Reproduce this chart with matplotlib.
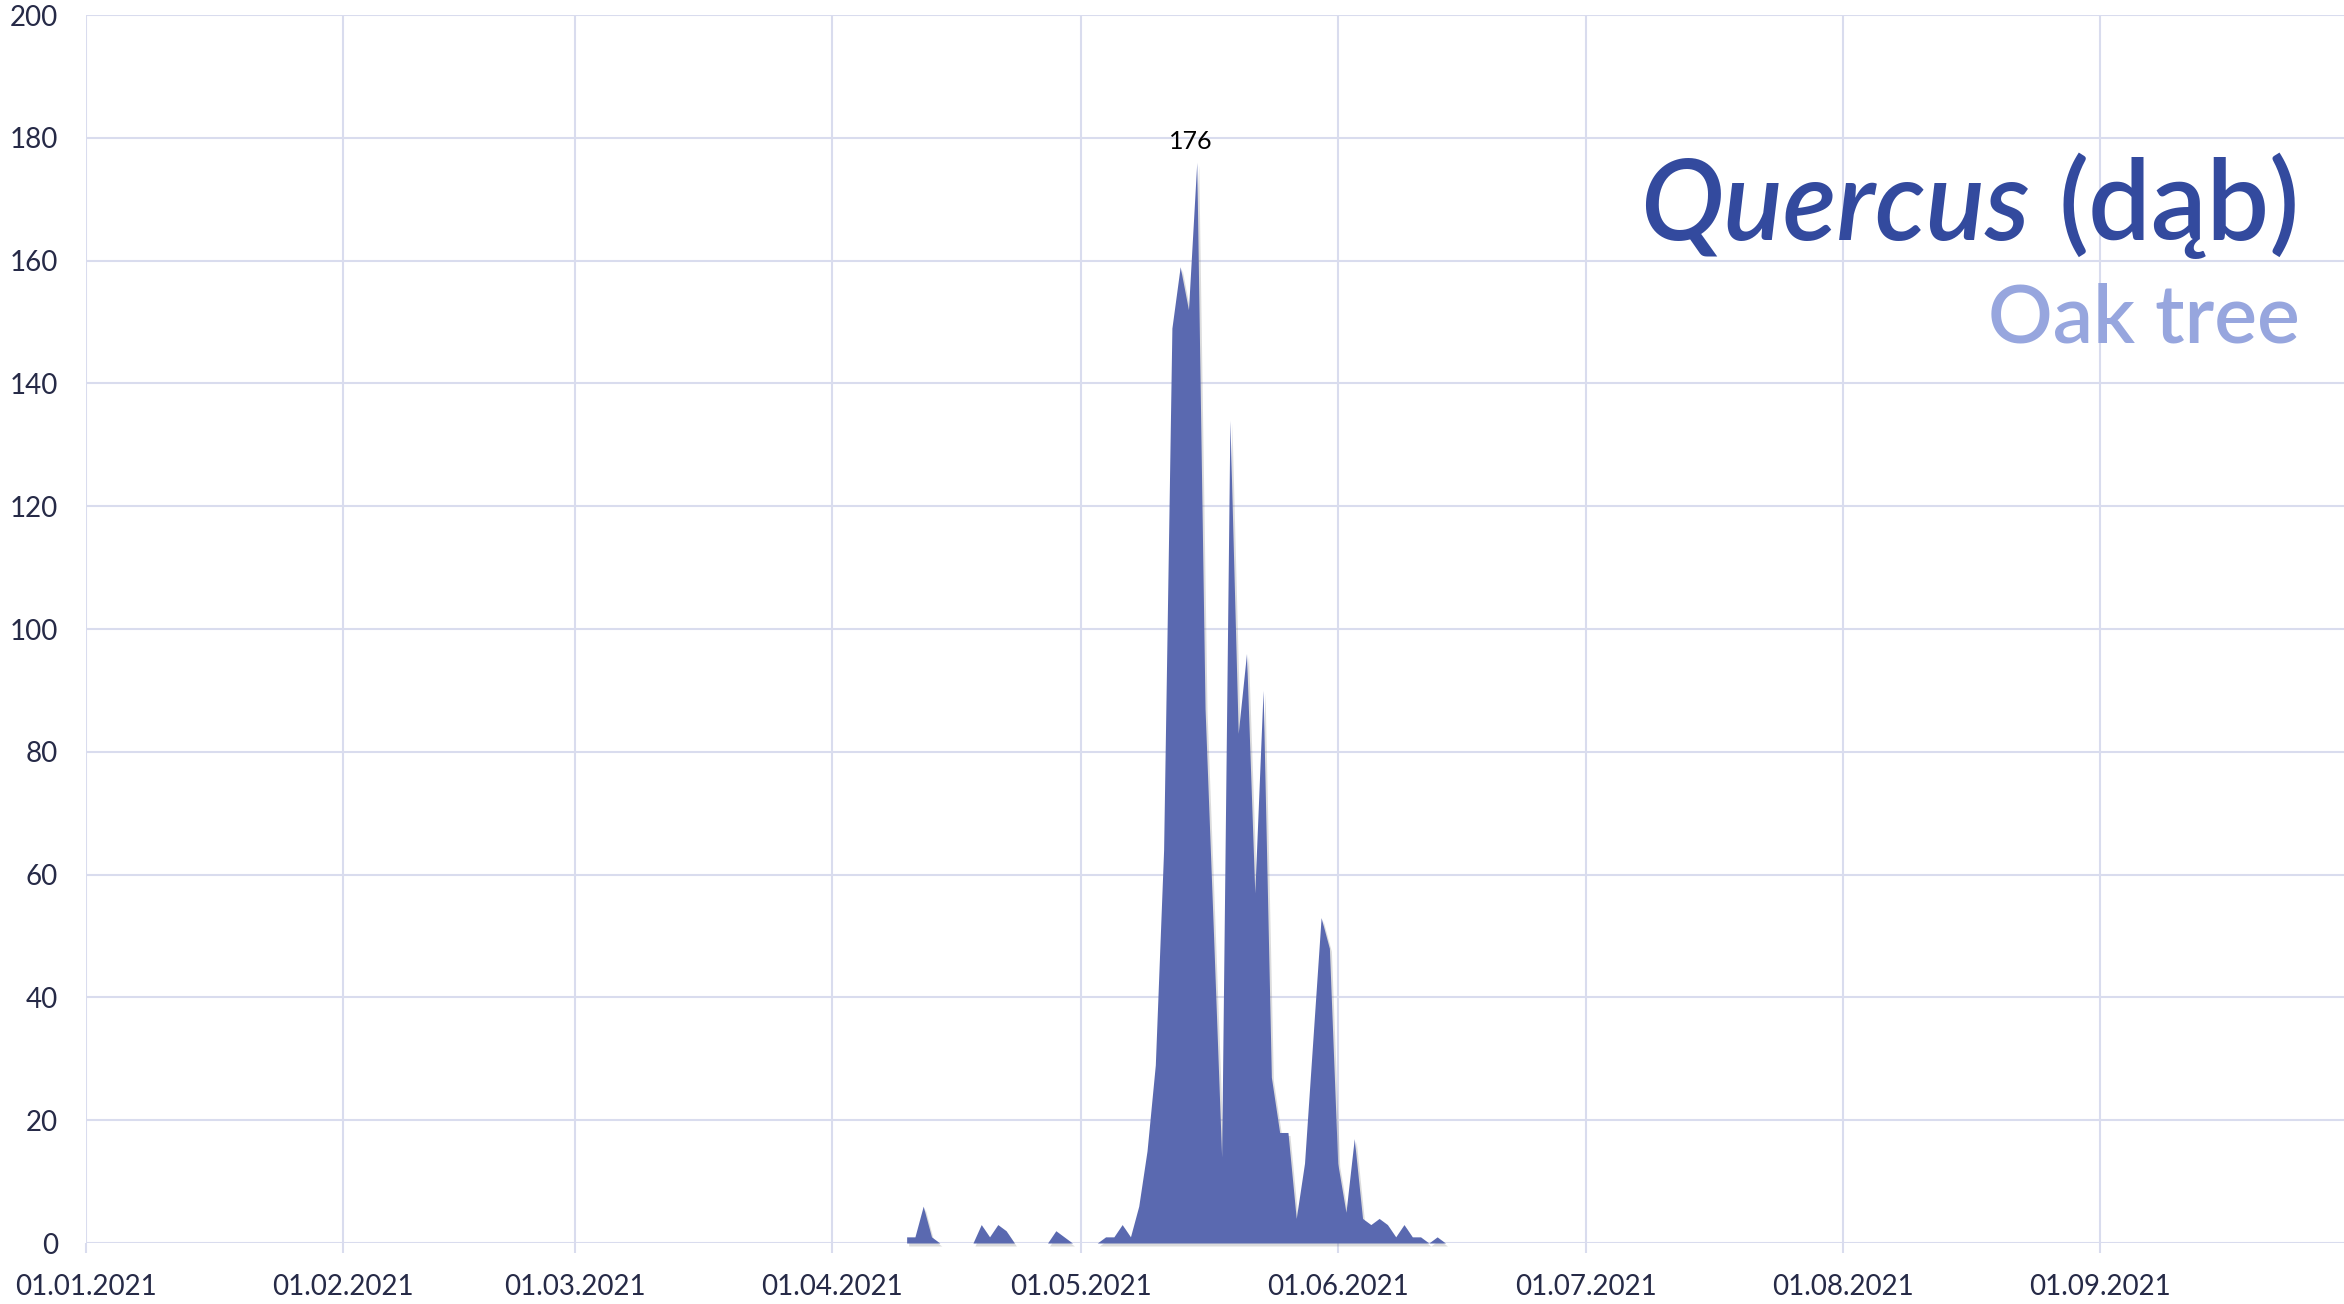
import numpy as np
import pandas as pd
import matplotlib
matplotlib.use('Agg')
import matplotlib.pyplot as plt
import matplotlib.dates as mdates
import matplotlib.transforms as mtransforms

# daily Quercus pollen counts 2021, first reading on 10.04
first_day = '2021-04-10'
counts = [1, 1, 6, 1, 0, 0, 0, 0, 0, 3, 1, 3, 2, 0, 0, 0, 0, 0, 2, 1,
          0, 0, 0, 0, 1, 1, 3, 1, 6, 15, 29, 64, 149, 159, 152, 176, 87, 51, 14, 134,
          83, 96, 57, 90, 27, 18, 18, 4, 13, 33, 53, 48, 13, 5, 17, 4, 3, 4, 3, 1,
          3, 1, 1, 0, 1, 0]
month_starts = ['2021-01-01', '2021-02-01', '2021-03-01', '2021-04-01', '2021-05-01',
                '2021-06-01', '2021-07-01', '2021-08-01', '2021-09-01']
y_ticks = [0, 20, 40, 60, 80, 100, 120, 140, 160, 180, 200]
title_latin = 'Quercus'
title_pl = '(dąb)'
title_en = 'Oak tree'

fill_col = '#5a69b0'
grid_col = '#d9dcee'
text_col = '#262a47'

plt.rcParams['font.family'] = ['Lato', 'DejaVu Sans']

dates = pd.date_range(first_day, periods=len(counts), freq='D')
ticks = pd.to_datetime(month_starts)

fig = plt.figure(figsize=(23.44, 13.04), dpi=100)
ax = fig.add_axes([86/2344, 61/1304, 1 - 86/2344, 1228/1304])

# soft shadow under the area
shadow = ax.transData + mtransforms.ScaledTranslation(2/100, -3/100, fig.dpi_scale_trans)
ax.fill_between(dates, counts, color='#777777', alpha=0.25, lw=0,
                transform=shadow, clip_on=False, zorder=2)
ax.fill_between(dates, counts, color=fill_col, lw=0, zorder=3)

# label the maximum
imax = int(np.argmax(counts))
ax.annotate(str(counts[imax]), (dates[imax], counts[imax]), xytext=(-4, 7),
            textcoords='offset points', ha='center', va='bottom',
            fontsize=18, color='black', zorder=4)

x0 = mdates.date2num(pd.Timestamp('2021-01-01'))
ax.set_xlim(x0, x0 + 272.4)
ax.set_ylim(0, 200)
ax.set_xticks(ticks)
ax.set_xticklabels([t.strftime('%d.%m.%Y') for t in ticks])
ax.set_yticks(y_ticks)

ax.grid(True, color=grid_col, lw=1.5, zorder=0)
ax.set_axisbelow(True)
for s in ax.spines.values():
    s.set_visible(False)
ax.tick_params(axis='x', length=7, width=1.5, color=grid_col, pad=15,
               labelsize=20, labelcolor=text_col)
ax.tick_params(axis='y', length=0, pad=20, labelsize=20, labelcolor=text_col)

# title in the top right corner
fig.canvas.draw()
renderer = fig.canvas.get_renderer()
t_pl = fig.text(0.981, 0.816, title_pl, ha='right', va='baseline',
                fontsize=80, fontweight='semibold', color='#334a9e')
bb = t_pl.get_window_extent(renderer)
fig.text((bb.x0 - 28) / fig.bbox.width, 0.816, title_latin, ha='right', va='baseline',
         fontsize=80, fontweight='semibold', style='italic', color='#334a9e')
fig.text(0.981, 0.7377, title_en, ha='right', va='baseline',
         fontsize=58, fontweight='semibold', color='#97a6de')

fig.savefig('out.png', dpi=100)
